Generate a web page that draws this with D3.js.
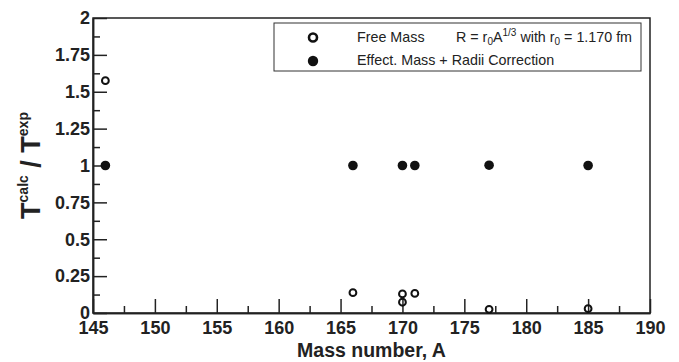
<!DOCTYPE html>
<html>
<head>
<meta charset="utf-8">
<script src="https://cdn.jsdelivr.net/npm/d3@7"></script>
<style>
  body { margin: 0; background: #fff; }
  svg { display: block; font-family: "Liberation Sans", Arial, Helvetica, sans-serif; }
  .axis text { font-weight: bold; font-size: 18px; fill: #222; }
  .axis line, .axis path { stroke: #222; stroke-width: 1.5; }
</style>
</head>
<body>
<svg id="chart" width="679" height="362"></svg>
<script>
// data
var massNumbers = [146, 166, 170, 170, 171, 177, 185]
var freeMass = [1.575, 0.138, 0.129, 0.073, 0.133, 0.025, 0.029]
var effMassA = [146, 166, 170, 171, 177, 185]
var effMass = [1.0, 1.0, 1.0, 1.0, 1.002, 1.0]

var xTicks = [145, 150, 155, 160, 165, 170, 175, 180, 185, 190]
var xMinor = [147.5, 152.5, 157.5, 162.5, 167.5, 172.5, 177.5, 182.5, 187.5]
var yTicks = [0, 0.25, 0.5, 0.75, 1, 1.25, 1.5, 1.75, 2]
var yMinor = [0.125, 0.375, 0.625, 0.875, 1.125, 1.375, 1.625, 1.875]

var svg = d3.select('#chart')
var mLeft = 93, mRight = 650, mTop = 18, mBottom = 313

var x = d3.scaleLinear().domain([145, 190]).range([mLeft, mRight])
var y = d3.scaleLinear().domain([0, 2]).range([mBottom, mTop])

// x axis (ticks pointing up into the plot)
svg.append('g').attr('class', 'axis')
  .attr('transform', 'translate(0,' + mBottom + ')')
  .call(d3.axisBottom(x).tickValues(xTicks).tickFormat(d => d).tickSizeInner(-14).tickSizeOuter(0).tickPadding(8))
svg.append('g').attr('class', 'axis')
  .attr('transform', 'translate(0,' + mBottom + ')')
  .call(d3.axisBottom(x).tickValues(xMinor).tickFormat('').tickSizeInner(-7).tickSizeOuter(0))

// y axis (ticks pointing right)
svg.append('g').attr('class', 'axis')
  .attr('transform', 'translate(' + mLeft + ',0)')
  .call(d3.axisLeft(y).tickValues(yTicks).tickFormat(d => d).tickSizeInner(-14).tickSizeOuter(0).tickPadding(3))
svg.append('g').attr('class', 'axis')
  .attr('transform', 'translate(' + mLeft + ',0)')
  .call(d3.axisLeft(y).tickValues(yMinor).tickFormat('').tickSizeInner(-7).tickSizeOuter(0))

svg.selectAll('.axis text').filter(function () { return this.textContent == '' }).remove()

// frame
svg.append('rect')
  .attr('x', mLeft).attr('y', mTop).attr('width', mRight - mLeft).attr('height', mBottom - mTop)
  .attr('fill', 'none').attr('stroke', '#222').attr('stroke-width', 1.5)

// points
svg.append('g').selectAll('circle')
  .data(effMassA.map((a, i) => ({a: a, v: effMass[i]})))
  .join('circle')
  .attr('cx', d => x(d.a)).attr('cy', d => y(d.v)).attr('r', 4.8)
  .attr('fill', '#111')

svg.append('g').selectAll('circle')
  .data(massNumbers.map((a, i) => ({a: a, v: freeMass[i]})))
  .join('circle')
  .attr('cx', d => x(d.a)).attr('cy', d => y(d.v)).attr('r', 3.4)
  .attr('fill', 'none').attr('stroke', '#111').attr('stroke-width', 2)

// legend
var lg = svg.append('g')
lg.append('rect').attr('x', 274).attr('y', 23).attr('width', 367).attr('height', 48)
  .attr('fill', '#fff').attr('stroke', '#333').attr('stroke-width', 1)
lg.append('circle').attr('cx', 313).attr('cy', 37.5).attr('r', 4)
  .attr('fill', 'none').attr('stroke', '#111').attr('stroke-width', 2.6)
lg.append('circle').attr('cx', 313).attr('cy', 61).attr('r', 5.2).attr('fill', '#111')

lg.append('text').attr('x', 357).attr('y', 42).attr('font-size', 14.3).attr('fill', '#222').text('Free Mass')
var t2 = lg.append('text').attr('x', 456).attr('y', 42).attr('font-size', 14.3).attr('fill', '#222')
t2.append('tspan').text('R = r')
t2.append('tspan').attr('font-size', 10).attr('dy', 3).text('0')
t2.append('tspan').attr('dy', -3).text('A')
t2.append('tspan').attr('font-size', 10).attr('dy', -6).text('1/3')
t2.append('tspan').attr('dy', 6).text(' with r')
t2.append('tspan').attr('font-size', 10).attr('dy', 3).text('0')
t2.append('tspan').attr('dy', -3).text(' = 1.170 fm')
lg.append('text').attr('x', 357).attr('y', 65).attr('font-size', 14.3).attr('fill', '#222').text('Effect. Mass + Radii Correction')

// axis titles
svg.append('text').attr('x', (mLeft + mRight) / 2).attr('y', 357)
  .attr('text-anchor', 'middle').attr('font-weight', 'bold').attr('font-size', 19.5).attr('fill', '#222')
  .text('Mass number, A')

var yt = svg.append('text').attr('transform', 'translate(40,' + ((mTop + mBottom) / 2) + ') rotate(-90)')
  .attr('text-anchor', 'middle').attr('font-weight', 'bold').attr('font-size', 27).attr('fill', '#222')
yt.append('tspan').text('T')
yt.append('tspan').attr('font-size', 14).attr('dy', -12).text('calc')
yt.append('tspan').attr('dy', 12).text(' / T')
yt.append('tspan').attr('font-size', 14).attr('dy', -12).text('exp')
</script>
</body>
</html>
